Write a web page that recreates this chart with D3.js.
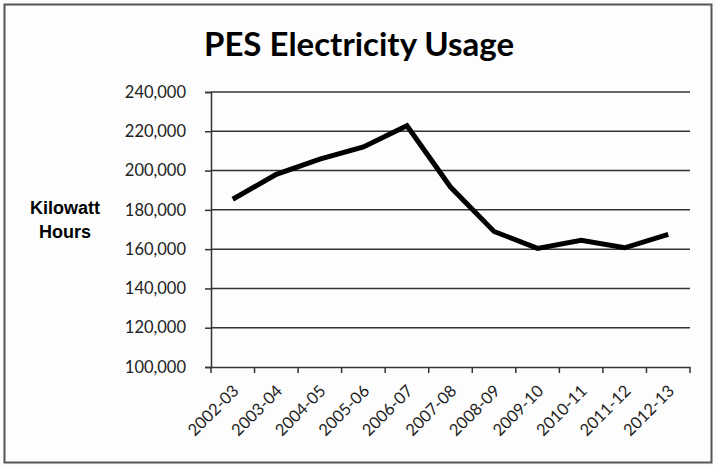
<!DOCTYPE html>
<html><head><meta charset="utf-8">
<script src="https://cdn.jsdelivr.net/npm/d3@7"></script>
<style>body{margin:0;background:#fff}svg{display:block}</style>
</head><body>
<script>
const categories = ["2002-03","2003-04","2004-05","2005-06","2006-07","2007-08","2008-09","2009-10","2010-11","2011-12","2012-13"];
const usage = [185400, 198100, 205800, 212000, 222800, 191600, 169000, 160400, 164500, 160700, 167500];
const yTicks = [100000,120000,140000,160000,180000,200000,220000,240000];
const title = "PES Electricity Usage";
const yTitle = ["Kilowatt","Hours"];

const W = 716, H = 467;
const svg = d3.select("body").append("svg").attr("width", W).attr("height", H);
svg.append("rect").attr("x",0).attr("y",0).attr("width",W).attr("height",H).attr("fill","#fdfdfd");
svg.append("rect").attr("x",4.5).attr("y",4.5).attr("width",707).attr("height",458)
  .attr("fill","none").attr("stroke","#555").attr("stroke-width",2);

const m = {left:211, right:690, top:92, bottom:367};
const x = d3.scaleBand().domain(categories).range([m.left, m.right]);
const y = d3.scaleLinear().domain([100000, 240000]).range([m.bottom, m.top]);

// gridlines
svg.append("g").selectAll("line").data(yTicks.filter(d=>d>100000)).join("line")
  .attr("x1", m.left).attr("x2", m.right)
  .attr("y1", d=>y(d)).attr("y2", d=>y(d))
  .attr("stroke","#333").attr("stroke-width",1.5);

// y axis
const yAxis = d3.axisLeft(y).tickValues(yTicks).tickSize(6).tickPadding(20)
  .tickFormat(d3.format(","));
const gy = svg.append("g").attr("transform",`translate(${m.left},0)`).call(yAxis);
gy.select(".domain").attr("stroke","#333").attr("stroke-width",1.5);
gy.selectAll(".tick line").attr("stroke","#333").attr("stroke-width",1.5);
gy.selectAll(".tick text").attr("font-family","Lato, 'Open Sans', sans-serif")
  .attr("font-size",16.5).attr("fill","#222").attr("x",-25);

// x axis
const xAxis = d3.axisBottom(x).tickSize(0).tickFormat(d=>d);
const gx = svg.append("g").attr("transform",`translate(0,${m.bottom})`).call(xAxis);
gx.select(".domain").attr("stroke","#333").attr("stroke-width",1.5);
// boundary ticks
svg.append("g").selectAll("line").data(categories.concat(["__end"])).join("line")
  .attr("x1",(d,i)=> i<categories.length ? x(d) : x.range()[1])
  .attr("x2",(d,i)=> i<categories.length ? x(d) : x.range()[1])
  .attr("y1", m.bottom).attr("y2", m.bottom+6)
  .attr("stroke","#333").attr("stroke-width",1.5);
gx.selectAll(".tick text")
  .attr("font-family","Lato, 'Open Sans', sans-serif").attr("font-size",16.5).attr("fill","#222")
  .attr("text-anchor","end").attr("dy",0).attr("y",0)
  .attr("transform","translate(7,25) rotate(-45)");

// line
const line = d3.line().x((d,i)=>x(categories[i]) + x.bandwidth()/2).y(d=>y(d));
svg.append("path").datum(usage).attr("d", line)
  .attr("fill","none").attr("stroke","#000").attr("stroke-width",5)
  .attr("stroke-linejoin","miter");

// title
svg.append("text").attr("x", 359).attr("y", 56).attr("text-anchor","middle")
  .attr("font-family","Lato, 'Open Sans', sans-serif").attr("font-weight","bold")
  .attr("font-size",33).attr("fill","#000").text(title);

// y title
svg.append("g").selectAll("text").data(yTitle).join("text")
  .attr("x",65).attr("y",(d,i)=>214+i*24).attr("text-anchor","middle")
  .attr("font-family","'Liberation Sans', Arial, sans-serif").attr("font-weight","bold")
  .attr("font-size",18).attr("fill","#000").text(d=>d);
</script>
</body></html>
